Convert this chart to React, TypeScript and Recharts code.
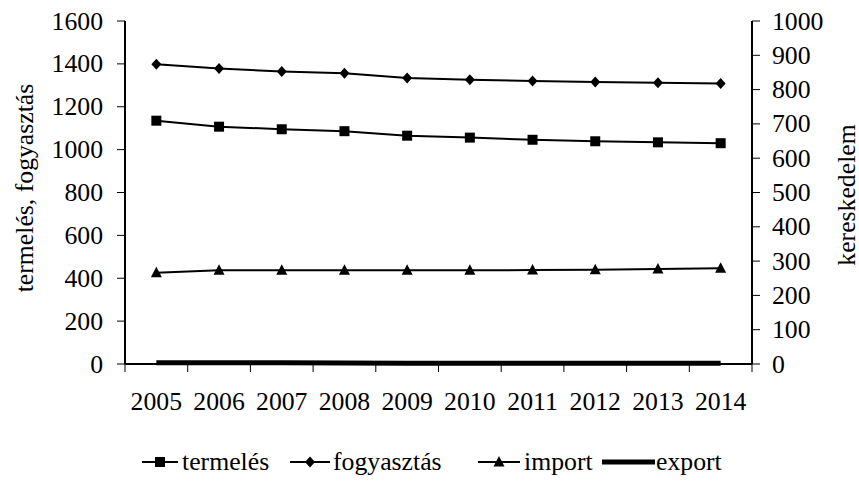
import React from 'react';
import { LineChart, Line, XAxis, YAxis, Legend } from 'recharts';

const years = ['2005', '2006', '2007', '2008', '2009', '2010', '2011', '2012', '2013', '2014'];
const termeles = [1135, 1107, 1095, 1086, 1065, 1056, 1046, 1039, 1034, 1030];
const fogyasztas = [1398, 1378, 1365, 1356, 1334, 1326, 1320, 1316, 1312, 1309];
const importVals = [266, 273, 273, 273, 273, 273, 274, 275, 277, 279];
const exportVals = [4, 4, 4, 3, 2, 2, 2, 2, 2, 2];
const leftTicks = [0, 200, 400, 600, 800, 1000, 1200, 1400, 1600];
const rightTicks = [0, 100, 200, 300, 400, 500, 600, 700, 800, 900, 1000];

// x positions: each year sits in the middle of its category slot
const data = years.map((year, i) => ({
  x: i + 0.5,
  year,
  termeles: termeles[i],
  fogyasztas: fogyasztas[i],
  import: importVals[i],
  export: exportVals[i],
}));
const xTicks = [...years.flatMap((_, i) => [i, i + 0.5]), years.length];

const FONT = "'Liberation Serif', 'Times New Roman', serif";
const FS = 25;
const SX = 1.03;

const Square = ({ cx, cy }: any) => <rect x={cx - 5} y={cy - 5} width={10} height={10} fill="#000" />;
const Diamond = ({ cx, cy }: any) => (
  <polygon points={`${cx},${cy - 5.5} ${cx + 5},${cy} ${cx},${cy + 5.5} ${cx - 5},${cy}`} fill="#000" />
);
const Triangle = ({ cx, cy }: any) => (
  <polygon points={`${cx},${cy - 6} ${cx + 5.5},${cy + 4.5} ${cx - 5.5},${cy + 4.5}`} fill="#000" />
);

const XTick = ({ x, y, payload }: any) => {
  const v = payload.value;
  if (Number.isInteger(v)) {
    return <line x1={x} x2={x} y1={y} y2={y + 8} stroke="#000" strokeWidth={1} />;
  }
  return (
    <text transform={`translate(${x},${y + 46}) scale(${SX},1)`} textAnchor="middle" fontFamily={FONT} fontSize={FS} fill="#000">
      {years[Math.floor(v)]}
    </text>
  );
};

const LeftTick = ({ x, y, payload }: any) => (
  <text transform={`translate(${x - 12},${y + 8.5}) scale(${SX},1)`} textAnchor="end" fontFamily={FONT} fontSize={FS} fill="#000">
    {payload.value}
  </text>
);

const RightTick = ({ x, y, payload }: any) => (
  <text transform={`translate(${x + 10},${y + 8.5}) scale(${SX},1)`} textAnchor="start" fontFamily={FONT} fontSize={FS} fill="#000">
    {payload.value}
  </text>
);

const Title = ({ x, y, text }: { x: number; y: number; text: string }) => (
  <text transform={`translate(${x},${y}) rotate(-90) scale(${SX},1)`} textAnchor="middle" fontFamily={FONT} fontSize={FS} fill="#000">
    {text}
  </text>
);

const LegendText = ({ x, text }: { x: number; text: string }) => (
  <text transform={`translate(${x},40) scale(${SX},1)`} fontFamily={FONT} fontSize={FS} fill="#000">
    {text}
  </text>
);

const LegendBox = () => (
  <svg width={859} height={60} style={{ display: 'block' }}>
    <line x1={142} x2={178} y1={32} y2={32} stroke="#000" strokeWidth={2} />
    <Square cx={160} cy={32} />
    <LegendText x={182} text="termelés" />
    <line x1={290} x2={330} y1={32} y2={32} stroke="#000" strokeWidth={2} />
    <Diamond cx={310} cy={32} />
    <LegendText x={333} text="fogyasztás" />
    <line x1={478} x2={520} y1={32} y2={32} stroke="#000" strokeWidth={2} />
    <Triangle cx={499} cy={32} />
    <LegendText x={524} text="import" />
    <line x1={602} x2={655} y1={32} y2={32} stroke="#000" strokeWidth={5} />
    <LegendText x={656} text="export" />
  </svg>
);

export default function App() {
  return (
    <div style={{ width: 859, height: 490, background: '#fff' }}>
      <style>{`body{margin:0}`}</style>
      <LineChart width={859} height={490} data={data} margin={{ top: 21, right: 0, bottom: 0, left: 0 }}>
        <XAxis
          dataKey="x"
          type="number"
          domain={[0, years.length]}
          ticks={xTicks}
          interval={0}
          height={66}
          tickSize={0}
          tickMargin={0}
          tickLine={false}
          tick={<XTick />}
          axisLine={{ stroke: '#000', strokeWidth: 2 }}
        />
        <XAxis
          xAxisId="top"
          orientation="top"
          dataKey="x"
          type="number"
          domain={[0, years.length]}
          height={0}
          tick={false}
          tickLine={false}
          axisLine={{ stroke: '#000', strokeWidth: 2 }}
        />
        <YAxis
          yAxisId="left"
          width={125}
          domain={[0, 1600]}
          ticks={leftTicks}
          interval={0}
          tickSize={8}
          tickLine={{ stroke: '#000' }}
          axisLine={{ stroke: '#000', strokeWidth: 2 }}
          tick={<LeftTick />}
          label={{ content: () => <Title x={33} y={188} text="termelés, fogyasztás" /> }}
        />
        <YAxis
          yAxisId="right"
          orientation="right"
          width={107}
          domain={[0, 1000]}
          ticks={rightTicks}
          interval={0}
          tickSize={8}
          tickLine={{ stroke: '#000' }}
          axisLine={{ stroke: '#000', strokeWidth: 2 }}
          tick={<RightTick />}
          label={{ content: () => <Title x={855} y={195} text="kereskedelem" /> }}
        />
        <Legend verticalAlign="bottom" content={() => <LegendBox />} />
        <Line yAxisId="left" dataKey="termeles" stroke="#000" strokeWidth={2} dot={<Square />} isAnimationActive={false} />
        <Line yAxisId="left" dataKey="fogyasztas" stroke="#000" strokeWidth={2} dot={<Diamond />} isAnimationActive={false} />
        <Line yAxisId="right" dataKey="import" stroke="#000" strokeWidth={2} dot={<Triangle />} isAnimationActive={false} />
        <Line yAxisId="right" dataKey="export" stroke="#000" strokeWidth={5} dot={false} isAnimationActive={false} />
      </LineChart>
    </div>
  );
}
